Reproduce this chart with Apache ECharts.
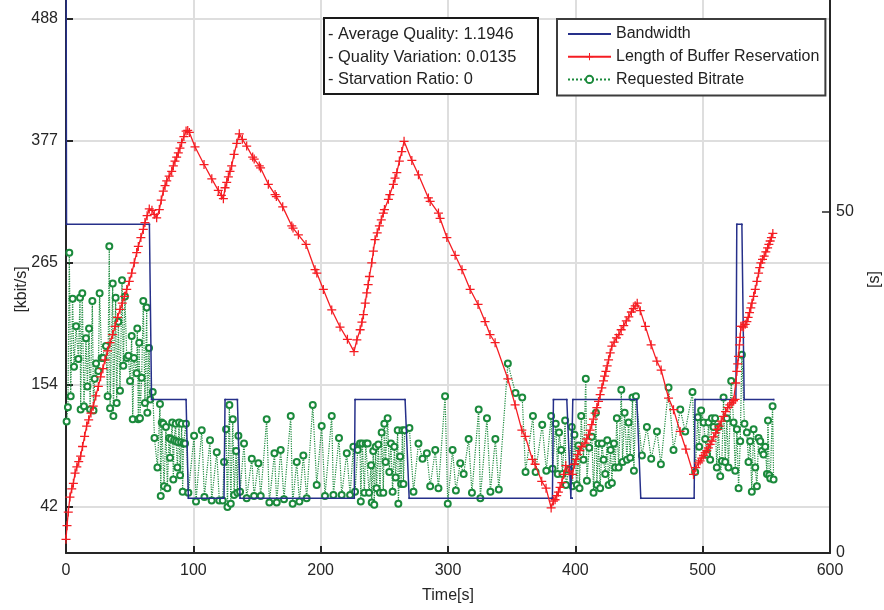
<!DOCTYPE html>
<html>
<head>
<meta charset="utf-8">
<style>
  html, body { margin: 0; padding: 0; background: #fff; }
  #main { width: 884px; height: 610px; }
</style>
<script src="https://cdn.jsdelivr.net/npm/echarts@6.0.0/dist/echarts.min.js"></script>
</head>
<body>
<div id="main"></div>
<script>
// left axis ticks (labels are shown rounded: 42, 154, 265, 377, 488)
const rateTicks = [42, 153.5, 265, 376.5, 488]
// right axis ticks [s]
const secTicks = [0, 50]

// Bandwidth [kbit/s], corner points of the step curve
const bwTime = [0, 0.4, 65.5, 67.2, 94.3, 96.1, 124.1, 124.9, 134.6, 136.7, 226.4, 227, 266.3, 269.5,
  382, 382.8, 393.3, 396.5, 397.5, 398, 448.3, 451.4, 493.3, 494, 526.1, 526.8, 530.8, 532.6, 555.8]
const bwRate = [620, 300, 300, 140, 140, 50, 50, 140, 140, 50, 50, 140, 140, 50,
  50, 140, 140, 50, 50, 140, 140, 50, 50, 140, 140, 300, 300, 140, 140]

// Length of buffer reservation [s] (right axis)
const bufTime = [0, 0.8, 1.8, 3.1, 4.5, 5.8, 7.1, 8.5, 10, 11.5, 13, 14.6, 16.2, 17.8, 19.6, 21.4, 23.4, 25.4, 27.2, 29,
  30.6, 32.6, 34.6, 36.6, 38.5, 40.5, 42.4, 44.2, 46, 47.7, 49.7, 51.6, 53.6, 55.5, 56.8, 58.8, 60.7, 62, 63.7, 65.4,
  67.5, 69.3, 71.2, 73.3, 74.8, 76.4, 77.8, 79.1, 81, 83, 84.3, 85.6, 86.9, 88.2, 89.5, 90.8, 92.6, 94.3, 95.6, 96.9,
  101.3, 108.4, 114.5, 119.6, 122, 123.6, 124.9, 126.2, 127.5, 128.8, 130.1, 132, 134.1, 136.1, 138.5, 141.9, 146.6,
  147.8, 151.8, 152.8, 158.9, 164.2, 165.2, 170.2, 177.3, 178.3, 182.5, 188.5, 195.6, 197, 202.1, 208.7, 215.2, 221,
  226.2, 228.4, 231, 232.4, 233.6, 235, 236.2, 237.3, 238.3, 240.1, 241.4, 242.7, 244.4, 246.1, 247.6, 249.2, 250.1,
  253.2, 254.3, 257.1, 258.4, 259.8, 261.8, 263.7, 265.5, 271.6, 276.8, 284.6, 286, 292.5, 293.8, 299.1, 305.6, 311,
  317.4, 323.6, 329.1, 333, 337, 347, 352.7, 358, 360.6, 366.3, 368.4, 373.6, 377, 381, 382.8, 384.1, 385.4, 386.7,
  388, 389.4, 390.9, 392.5, 395.1, 397.7, 399.3, 400.6, 401.9, 403.5, 405.1, 407.6, 409, 410.3, 411.6, 412.9, 414.2,
  415.5, 416.9, 418.2, 419.5, 420.8, 422.1, 423, 424, 425, 426.1, 427.4, 428.7, 430.5, 432.3, 434.2, 436, 438, 440,
  442, 444, 445.6, 447, 448.6, 451, 455, 459.5, 464, 467.4, 473.2, 477.1, 482.3, 486.8, 492.8, 494.6, 496.7, 498,
  499.3, 500.6, 501.9, 503.2, 504.5, 505.9, 507.2, 508.7, 510.3, 511.6, 512.9, 514.6, 516.3, 518, 519.7, 521.3, 522.9,
  524.2, 525.5, 526, 526.8, 527.5, 528.1, 528.9, 529.5, 530, 531, 532.1, 533.4, 534.7, 535.7, 536.8, 537.8, 538.7, 540,
  541.3, 542.6, 543.9, 544.8, 545.7, 547, 548.3, 549.6, 551, 552, 553, 554, 555.1]
const bufLen = [2, 4, 6, 8.2, 9.4, 10.2, 11.7, 12.6, 13.4, 14.2, 15.6, 17.1, 18.6, 19.5, 20.5, 21.5, 23, 24.4, 25.8, 27,
  28.3, 29.6, 30.8, 32, 33.2, 34.5, 35.7, 36.6, 37.6, 38.6, 39.8, 41, 42.5, 44, 44.9, 46.2, 47.4, 48.4, 49.4, 50.4,
  50.2, 49.6, 49.1, 50.3, 51.7, 53, 53.8, 54.5, 55.2, 55.9, 56.7, 57.4, 58, 58.6, 59.3, 60.1, 61, 61.8, 61.9, 61.6,
  59.5, 56.9, 54.8, 53.1, 52.4, 51.9, 53.5, 54.3, 55.1, 55.9, 56.7, 58.4, 60, 61.4, 60.6, 59.6, 58,
  57.7, 56.7, 56.4, 54, 52.5, 52.2, 50.7, 47.9, 47.6, 46.6, 45.2, 41.5, 41, 38.6, 35.6, 33.1, 31.3,
  29.5, 31.2, 32.7, 33.8, 34.9, 36.6, 38.1, 39.3, 40.5, 42.5, 44.2, 45.9, 46.9, 47.9, 48.8, 49.8, 50.3,
  51.8, 52.5, 54, 54.9, 55.7, 57.4, 58.8, 60.3, 57.5, 55.4, 52, 51.5, 49.8, 49, 46.2, 43.6, 41.5,
  38.6, 36.4, 33.9, 32, 30.8, 25.5, 21.7, 18, 17.1, 13.7, 13, 10.5, 9.5, 6.6, 7.6, 7.8, 8.4, 8.9,
  9.6, 10.3, 11.5, 12.8, 12, 11.5, 13, 13.7, 14.4, 15, 15.6, 16.1, 16.7, 17.3, 18, 18.8, 19.6,
  20.5, 21.3, 22.2, 23.2, 24.2, 25.2, 25.9, 26.6, 27.4, 28.3, 29.3, 30.3, 30.9, 31.5, 32, 32.7, 33.3, 34,
  34.6, 35.3, 35.8, 36.2, 36.6, 35.5, 33.2, 30.5, 28.1, 26.8, 22.7, 21, 17.8, 15.2, 11.5, 12.5, 13.2, 13.5,
  13.9, 14.3, 14.7, 15, 15.4, 15.9, 16.4, 17, 17.6, 18.1, 18.6, 19.3, 20, 20.7, 21.3, 21.7, 22,
  22.3, 22.5, 24.9, 26.6, 27.7, 28.8, 30.5, 31.6, 33.2, 33.2, 33.1, 33.5, 33.9, 34.5, 35.2, 35.9, 36.6, 37.6,
  38.6, 39.8, 41, 41.8, 42.5, 43, 43.5, 44.1, 44.7, 45.2, 45.7, 46.2, 46.8]

// Requested bitrate [kbit/s]
const reqTime = [0.5, 1.5, 2.6, 3.7, 5.2, 6.3, 7.9, 9.7, 11, 11.5, 12.8, 14.1, 15.7, 16.8, 18.1, 18.9, 20.7, 21.6, 22.5, 23.6,
  25.4, 26.4, 28, 29.3, 31.4, 32.7, 34, 34.6, 36.7, 37.2, 39, 39.8, 41.1, 42.4, 44, 45, 46.3, 47.7, 49, 50.3,
  51.6, 52.4, 53.4, 55.5, 56, 56.8, 57.5, 58.1, 59.4, 60.7, 62, 63.4, 63.9, 65.2, 66.2, 68.1,
  69.5, 71.8, 73.8, 74.4, 75.2, 76.4, 77, 78.5, 79.6, 80.9, 81.7, 82.5, 83.4, 84.3, 84.9, 86.1, 86.5, 87.5, 88.2,
  88.8, 89.6, 90.4, 90.9, 91.6, 92.3, 93.5, 94.2, 96.1,
  100.6, 102.1, 106.6, 108.7, 113.1, 114.4, 118.4, 120.4, 123.1,
  124.1, 125.7, 126.8, 128.3, 129.4, 131, 132, 133.6, 134.6, 135.4, 136.7,
  139.8, 141.9, 145.9, 147.7, 151.1, 152.9, 157.6, 159.7, 163.7, 165.5, 168.6, 171.2, 176.5, 178, 181.2, 183.3,
  186.4, 189, 193.8, 196.9, 200.8, 203.4, 208.7, 210, 214.4, 216.5, 220.5, 223.1, 225.7,
  227, 229.1, 230.9, 231.5, 232.7, 234.3, 235.4, 236.9, 238, 239.6, 240.1, 241.3, 242.1, 243.2, 243.9, 245.3, 246.6,
  247.9, 249.2, 250, 251, 252.6, 253.9, 255.2, 256.5, 257.9, 258.9, 260.5, 261, 262.4, 263.2, 264.2, 265, 266,
  269.7, 272.9, 276.8, 280, 283.4, 286, 290, 292.5, 297.7, 299.8, 303.6, 306.2, 309.6, 312.3, 316.2, 318.8, 324.1,
  325.4, 330.6, 333.3, 337.2, 339.9, 347, 353, 358.3, 360.9, 366.7, 368.8, 374, 377.2,
  381, 382.1, 384.6, 386.2, 387.2, 388.9, 389.9, 392, 392.6, 395.1, 397.2, 397.8, 399.3, 401.2, 402.4, 403.3, 404.6,
  406.4, 408.2, 409.1, 410.9, 413, 414.3, 416.2, 416.9, 418.2, 419.5, 420.9, 422.2, 423.5, 425.1, 426.1, 427.7,
  428.7, 430.3, 431.3, 432.6, 434, 436.1, 437.1, 438.7, 440.5, 441.8, 443.1, 444.9, 446, 447.6,
  452.3, 456.2, 459.6, 464.1, 467.2, 473.2, 477.1, 482.4, 486.3, 492,
  494.1, 496.2, 497.3, 498.8, 500.7, 502, 503.3, 504.6, 505.9, 507.2, 508.5, 509.8, 511.1, 512.4, 513.8, 515.1,
  516.4, 517.7, 519, 520.3, 522.4, 524.3, 525.6, 526.9, 528.2, 529.5, 530.8, 532.8, 534.7, 536, 537.3, 538.6, 540,
  541.3, 542.6, 543.9, 545.2, 546.5, 547.8, 549.1, 550.5, 551.3, 552.3, 553.1, 554.9, 555.7]
const reqRate = [120, 133, 274, 143, 232, 170, 207, 177, 233, 131, 237, 134, 196, 152, 205, 131, 230, 130, 159, 173,
  166, 237, 178, 178, 189, 143, 280, 132, 246, 125, 233, 137, 211, 148, 249, 171, 234, 178, 180, 157,
  198, 122, 178, 164, 205, 122, 192, 123, 160, 230, 137, 224, 128, 187, 140, 147,
  105, 78, 136, 52, 119, 118, 61, 115, 59, 105, 87, 104, 119, 67, 103, 118, 102, 78, 101,
  119, 71, 101, 118, 56, 100, 100, 118, 55,
  107, 47, 112, 51, 103, 48, 92, 48, 48,
  83, 113, 42, 135, 45, 122, 53, 93, 55, 107, 56,
  100, 50, 86, 52, 82, 52, 122, 46, 91, 46, 94, 49, 125, 45, 83, 47,
  89, 50, 135, 62, 116, 52, 125, 53, 105, 53, 91, 53, 97,
  56, 94, 100, 47, 100, 55, 100, 100, 55, 80, 46, 93, 44, 97, 59, 99, 55,
  110, 55, 118, 83, 123, 74, 100, 56, 97, 69, 112, 45, 88, 63, 112, 63, 112,
  114, 56, 100, 86, 91, 61, 94, 59, 143, 45, 94, 57, 82, 72, 104, 55, 131,
  50, 123, 56, 104, 58, 173, 146, 142, 74, 125, 74, 117, 75,
  125, 77, 118, 72, 110, 94, 72, 121, 62, 76, 115, 61, 108, 62, 98, 59, 125,
  85, 159, 66, 96, 106, 55, 128, 62, 100, 59, 100, 85, 72, 103, 62, 94,
  64, 100, 78, 123, 78, 149, 83, 128, 85, 119, 87, 142, 75, 143,
  89, 115, 86, 111, 81, 151, 94, 131, 111, 147,
  74, 124, 97, 130, 119, 104, 90, 119, 85, 123, 115, 123, 78, 115, 70, 84,
  142, 83, 123, 78, 157, 119, 75, 113, 59, 102, 181, 118, 110, 83, 102, 56, 113,
  78, 61, 105, 102, 93, 90, 97, 72, 121, 71, 68, 134, 67]

const infoLines = ['- Average Quality: 1.1946', '- Quality Variation: 0.0135', '- Starvation Ratio: 0']

const zip = (a, b) => a.map((v, i) => [v, b[i]])
const font = 'Liberation Sans'
const axisColor = '#262626'
const gridColor = '#dedede'

// marker shapes: small dot (padded box) and a thin plus
const dotSymbol = 'path://M0,0M10,10M3.6,3.6H6.4V6.4H3.6Z'
const plusSymbol = 'path://M4.3,0H5.7V4.3H10V5.7H5.7V10H4.3V5.7H0V4.3H4.3Z'

var chart = echarts.init(document.getElementById('main'))
var option = {
  animation: false,
  backgroundColor: '#fff',
  grid: { left: 66, right: 54, top: 0, bottom: 57, containLabel: false, outerBoundsMode: 'none' },
  legend: {
    orient: 'vertical',
    left: 557,
    top: 19,
    z: 10,
    backgroundColor: '#fff',
    borderColor: '#3c3c3c',
    borderWidth: 2,
    padding: [7, 6, 8, 10],
    itemWidth: 43,
    itemHeight: 9,
    itemGap: 6.7,
    textStyle: { fontFamily: font, fontSize: 16, color: '#222' },
    data: ['Bandwidth', 'Length of Buffer Reservation', 'Requested Bitrate']
  },
  graphic: [
    {
      type: 'rect',
      z: 100,
      shape: { x: 324, y: 18, width: 214, height: 76 },
      style: { fill: '#fff', stroke: '#1a1a1a', lineWidth: 2 }
    },
    {
      type: 'text',
      z: 101,
      x: 328,
      y: 23.5,
      style: {
        text: infoLines.join('\n'),
        font: '16.4px "Liberation Sans"',
        lineHeight: 22.5,
        fill: '#222'
      }
    }
  ],
  xAxis: {
    type: 'value',
    min: 0,
    max: 600,
    interval: 100,
    name: 'Time[s]',
    nameLocation: 'middle',
    nameGap: 35,
    nameMoveOverlap: false,
    nameTextStyle: { fontFamily: font, fontSize: 16, color: axisColor },
    axisLine: { onZero: false, lineStyle: { color: axisColor, width: 2 } },
    axisTick: { inside: true, length: 7, lineStyle: { color: axisColor, width: 2 } },
    axisLabel: { margin: 10, fontFamily: font, fontSize: 16, color: axisColor },
    splitLine: { show: true, lineStyle: { color: gridColor, width: 2 } }
  },
  yAxis: [
    {
      type: 'value',
      min: 0,
      max: 504.7,
      name: '[kbit/s]',
      nameLocation: 'middle',
      nameGap: 36,
      nameMoveOverlap: false,
      nameRotate: 90,
      nameTextStyle: { fontFamily: font, fontSize: 16, color: axisColor, padding: [0, 26, 0, 0] },
      axisLine: { show: true, lineStyle: { color: axisColor, width: 2 } },
      axisTick: { show: true, inside: true, length: 7, customValues: rateTicks, lineStyle: { color: axisColor, width: 2 } },
      axisLabel: {
        margin: 8,
        fontFamily: font,
        fontSize: 16,
        color: axisColor,
        customValues: rateTicks,
        formatter: function (v) { return String(Math.round(v)) }
      },
      splitLine: { show: true, lineStyle: { color: gridColor, width: 2 } }
    },
    {
      type: 'value',
      position: 'right',
      min: 0,
      max: 81,
      name: '[s]',
      nameLocation: 'middle',
      nameGap: 37,
      nameMoveOverlap: false,
      nameRotate: 90,
      nameTextStyle: { fontFamily: font, fontSize: 16, color: axisColor, padding: [0, 6, 0, 0] },
      axisLine: { show: true, lineStyle: { color: axisColor, width: 2 } },
      axisTick: { show: true, inside: true, length: 8, customValues: secTicks, lineStyle: { color: axisColor, width: 1.5 } },
      axisLabel: { margin: 6, fontFamily: font, fontSize: 16, color: axisColor, customValues: secTicks },
      splitLine: { show: false }
    }
  ],
  series: [
    {
      name: 'Bandwidth',
      type: 'line',
      z: 3,
      yAxisIndex: 0,
      data: zip(bwTime, bwRate),
      symbol: dotSymbol,
      symbolSize: 6,
      color: '#26308a',
      lineStyle: { color: '#26308a', width: 1.5 },
      itemStyle: { color: '#26308a' }
    },
    {
      name: 'Length of Buffer Reservation',
      type: 'line',
      z: 4,
      yAxisIndex: 1,
      data: zip(bufTime, bufLen),
      symbol: plusSymbol,
      symbolSize: 9,
      color: '#f51d23',
      lineStyle: { color: '#f51d23', width: 1.3 },
      itemStyle: { color: '#f51d23' }
    },
    {
      name: 'Requested Bitrate',
      type: 'line',
      z: 2,
      yAxisIndex: 0,
      data: zip(reqTime, reqRate),
      symbol: 'emptyCircle',
      symbolSize: 6,
      color: '#1b8a3c',
      lineStyle: { color: '#1b8a3c', width: 1.2, type: 'dotted' },
      itemStyle: { color: '#1b8a3c', borderColor: '#1b8a3c', borderWidth: 1.3 }
    }
  ]
}
chart.setOption(option)
</script>
</body>
</html>
